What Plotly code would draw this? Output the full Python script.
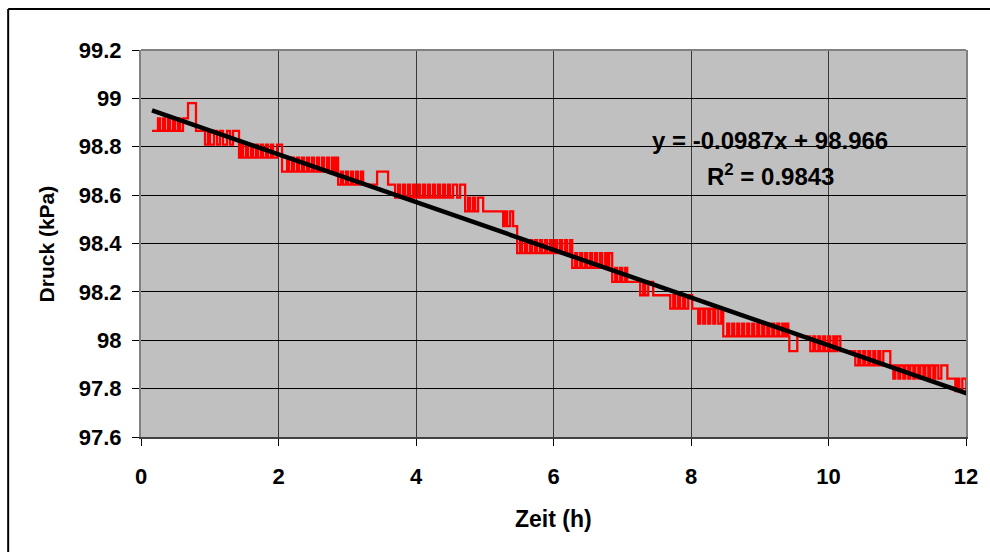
import plotly.graph_objects as go

# ---- data (time in h, pressure in kPa) ----
zeit_h = [
    0.160, 0.247, 0.276, 0.320, 0.349, 0.393, 0.422, 0.466, 0.495, 0.538, 0.568, 0.611, 0.684, 0.800,
    0.931, 0.975, 1.004, 1.062, 1.106, 1.150, 1.193, 1.251, 1.295, 1.339,
    1.426, 1.455, 1.484, 1.528, 1.557, 1.601, 1.630, 1.673, 1.703, 1.746, 1.775, 1.819, 1.848, 1.892, 1.921, 1.979,
    2.052, 2.125, 2.154, 2.197, 2.226, 2.270, 2.299, 2.343, 2.372, 2.416, 2.445, 2.488, 2.517, 2.561, 2.590,
    2.634, 2.663, 2.707, 2.736, 2.779, 2.808, 2.837,
    2.867, 2.910, 2.939, 2.983, 3.012, 3.056, 3.085, 3.129, 3.158, 3.201, 3.231, 3.434, 3.594,
    3.696, 3.740, 3.769, 3.813, 3.842, 3.885, 3.914, 3.958, 3.987, 4.031, 4.060, 4.104, 4.133, 4.176, 4.205,
    4.249, 4.278, 4.322, 4.351, 4.395, 4.424, 4.467, 4.497, 4.540, 4.598, 4.642,
    4.715, 4.758, 4.788, 4.831, 4.860, 4.904, 4.977,
    5.268, 5.297, 5.326, 5.370, 5.413,
    5.471, 5.515, 5.544, 5.588, 5.617, 5.661, 5.690, 5.733, 5.762, 5.806, 5.835, 5.879, 5.908, 5.952, 5.981,
    6.024, 6.054, 6.097, 6.126, 6.170, 6.199, 6.243,
    6.272, 6.316, 6.345, 6.389, 6.418, 6.461, 6.490, 6.534, 6.563, 6.606, 6.635, 6.679, 6.708, 6.752, 6.781, 6.810,
    6.854, 6.898, 6.927, 6.970, 7.000, 7.043, 7.072,
    7.261, 7.305, 7.334, 7.378, 7.450,
    7.698, 7.742, 7.771, 7.814, 7.843, 7.887, 7.916, 7.960, 8.018,
    8.105, 8.135, 8.178, 8.207, 8.251, 8.280, 8.324, 8.353, 8.397, 8.440,
    8.469, 8.527, 8.556, 8.600, 8.629, 8.673, 8.702, 8.745, 8.774, 8.818, 8.847, 8.891, 8.920, 8.964, 8.993,
    9.037, 9.066, 9.110, 9.139, 9.182, 9.211, 9.255, 9.284, 9.328, 9.357, 9.386, 9.415, 9.430, 9.546,
    9.735, 9.779, 9.808, 9.852, 9.881, 9.924, 9.953, 9.997, 10.026, 10.070, 10.099, 10.128, 10.172,
    10.390, 10.434, 10.463, 10.506, 10.535, 10.579, 10.608, 10.652, 10.681, 10.725, 10.754, 10.797, 10.899,
    10.943, 10.972, 11.016, 11.045, 11.089, 11.118, 11.161, 11.190, 11.234, 11.263, 11.307, 11.336, 11.380,
    11.409, 11.452, 11.481, 11.525, 11.554, 11.598, 11.641, 11.729,
    11.845, 11.874, 11.903, 11.947, 12.005, 12.092,
]

druck_kpa = [
    98.866, 98.917, 98.866, 98.917, 98.866, 98.917, 98.866, 98.917, 98.866, 98.917, 98.866, 98.917, 98.980, 98.866,
    98.809, 98.866, 98.809, 98.866, 98.809, 98.866, 98.809, 98.866, 98.809, 98.866,
    98.755, 98.809, 98.755, 98.809, 98.755, 98.809, 98.755, 98.809, 98.755, 98.809, 98.755, 98.809, 98.755, 98.809, 98.755, 98.809,
    98.697, 98.755, 98.697, 98.755, 98.697, 98.755, 98.697, 98.755, 98.697, 98.755, 98.697, 98.755, 98.697, 98.755, 98.697,
    98.755, 98.697, 98.755, 98.697, 98.755, 98.697, 98.755,
    98.643, 98.697, 98.643, 98.697, 98.643, 98.697, 98.643, 98.697, 98.643, 98.697, 98.643, 98.697, 98.643,
    98.590, 98.643, 98.590, 98.643, 98.590, 98.643, 98.590, 98.643, 98.590, 98.643, 98.590, 98.643, 98.590, 98.643, 98.590,
    98.643, 98.590, 98.643, 98.590, 98.643, 98.590, 98.643, 98.590, 98.643, 98.590, 98.643,
    98.533, 98.590, 98.533, 98.590, 98.533, 98.590, 98.533,
    98.472, 98.533, 98.472, 98.533, 98.472,
    98.360, 98.414, 98.360, 98.414, 98.360, 98.414, 98.360, 98.414, 98.360, 98.414, 98.360, 98.414, 98.360, 98.414, 98.360,
    98.414, 98.360, 98.414, 98.360, 98.414, 98.360, 98.414,
    98.299, 98.360, 98.299, 98.360, 98.299, 98.360, 98.299, 98.360, 98.299, 98.360, 98.299, 98.360, 98.299, 98.360, 98.299, 98.360,
    98.241, 98.299, 98.241, 98.299, 98.241, 98.299, 98.241,
    98.186, 98.241, 98.186, 98.241, 98.186,
    98.131, 98.186, 98.131, 98.186, 98.131, 98.186, 98.131, 98.186, 98.131,
    98.069, 98.131, 98.069, 98.131, 98.069, 98.131, 98.069, 98.131, 98.069, 98.131,
    98.016, 98.069, 98.016, 98.069, 98.016, 98.069, 98.016, 98.069, 98.016, 98.069, 98.016, 98.069, 98.016, 98.069, 98.016,
    98.069, 98.016, 98.069, 98.016, 98.069, 98.016, 98.069, 98.016, 98.069, 98.016, 98.069, 98.016, 97.955, 98.016,
    97.955, 98.016, 97.955, 98.016, 97.955, 98.016, 97.955, 98.016, 97.955, 98.016, 97.955, 98.016, 97.955,
    97.896, 97.955, 97.896, 97.955, 97.896, 97.955, 97.896, 97.955, 97.896, 97.955, 97.896, 97.955, 97.896,
    97.841, 97.896, 97.841, 97.896, 97.841, 97.896, 97.841, 97.896, 97.841, 97.896, 97.841, 97.896, 97.841,
    97.896, 97.841, 97.896, 97.841, 97.896, 97.841, 97.896, 97.841,
    97.790, 97.841, 97.790, 97.841, 97.790, 97.790,
]

# linear trendline (Excel)
trend_slope = -0.0987
trend_intercept = 98.966
trend_r2 = 0.9843

x_ticks = [0, 2, 4, 6, 8, 10, 12]
x_ticklabels = ["0", "2", "4", "6", "8", "10", "12"]
y_ticks = [97.6, 97.8, 98.0, 98.2, 98.4, 98.6, 98.8, 99.0, 99.2]
y_ticklabels = ["97.6", "97.8", "98", "98.2", "98.4", "98.6", "98.8", "99", "99.2"]

FONT = "Liberation Sans, Arial, sans-serif"

trend_x = [zeit_h[0], zeit_h[-1]]
trend_y = [trend_slope * v + trend_intercept for v in trend_x]

fig = go.Figure()
fig.add_trace(go.Scatter(
    x=zeit_h, y=druck_kpa, mode="lines", line=dict(color="#FF0000", width=2.3, shape="hv"),
    showlegend=False, hoverinfo="skip"))
fig.add_trace(go.Scatter(
    x=trend_x, y=trend_y, mode="lines", line=dict(color="#000000", width=4.5),
    showlegend=False, hoverinfo="skip"))

fig.update_layout(
    width=990, height=552,
    margin=dict(l=141, r=24, t=50, b=115, pad=0),
    paper_bgcolor="#FFFFFF",
    plot_bgcolor="#C0C0C0",
    font=dict(family=FONT, color="#000000"),
    xaxis=dict(
        range=[0, 12], tickvals=x_ticks, ticktext=x_ticklabels,
        showgrid=True, gridcolor="#3a3a3a", gridwidth=1,
        showline=True, linecolor="#404040", linewidth=2,
        ticks="outside", ticklen=7, tickcolor="#000000", tickwidth=1,
        ticklabelstandoff=12,
        tickfont=dict(family=FONT, size=22, weight="bold", color="#000000"),
        zeroline=False, fixedrange=True,
    ),
    yaxis=dict(
        range=[97.6, 99.2], tickvals=y_ticks, ticktext=y_ticklabels,
        showgrid=True, gridcolor="#000000", gridwidth=1,
        showline=True, linecolor="#808080", linewidth=2, mirror=True,
        ticks="outside", ticklen=7, tickcolor="#000000", tickwidth=1,
        ticklabelstandoff=6,
        tickfont=dict(family=FONT, size=22, weight="bold", color="#000000"),
        zeroline=False, fixedrange=True,
    ),
    shapes=[
        # grey plot-area border on top
        dict(type="line", xref="paper", yref="paper", x0=0, x1=1, y0=1, y1=1,
             line=dict(color="#808080", width=2), layer="above"),
        # chart-area frame (top and left edges visible)
        dict(type="line", xref="paper", yref="paper", x0=-0.161, x1=1.04, y0=1.106, y1=1.106,
             line=dict(color="#000000", width=2)),
        dict(type="line", xref="paper", yref="paper", x0=-0.161, x1=-0.161, y0=1.106, y1=-0.31,
             line=dict(color="#000000", width=2)),
    ],
    annotations=[
        dict(text="y = %.4fx + %.3f" % (trend_slope, trend_intercept),
             xref="paper", yref="paper", x=0.763, y=0.765, xanchor="center", yanchor="middle",
             showarrow=False, font=dict(family=FONT, size=24, weight="bold", color="#000000")),
        dict(text="R<sup>2</sup> = %.4f" % trend_r2,
             xref="paper", yref="paper", x=0.763, y=0.677, xanchor="center", yanchor="middle",
             showarrow=False, font=dict(family=FONT, size=24, weight="bold", color="#000000")),
        dict(text="Zeit (h)", xref="paper", yref="paper", x=0.5, y=-0.213,
             xanchor="center", yanchor="middle", showarrow=False,
             font=dict(family=FONT, size=23, weight="bold", color="#000000")),
        dict(text="Druck (kPa)", xref="paper", yref="paper", x=-0.114, y=0.5, textangle=-90,
             xanchor="center", yanchor="middle", showarrow=False,
             font=dict(family=FONT, size=21, weight="bold", color="#000000")),
    ],
)

fig.write_html("out.html")
